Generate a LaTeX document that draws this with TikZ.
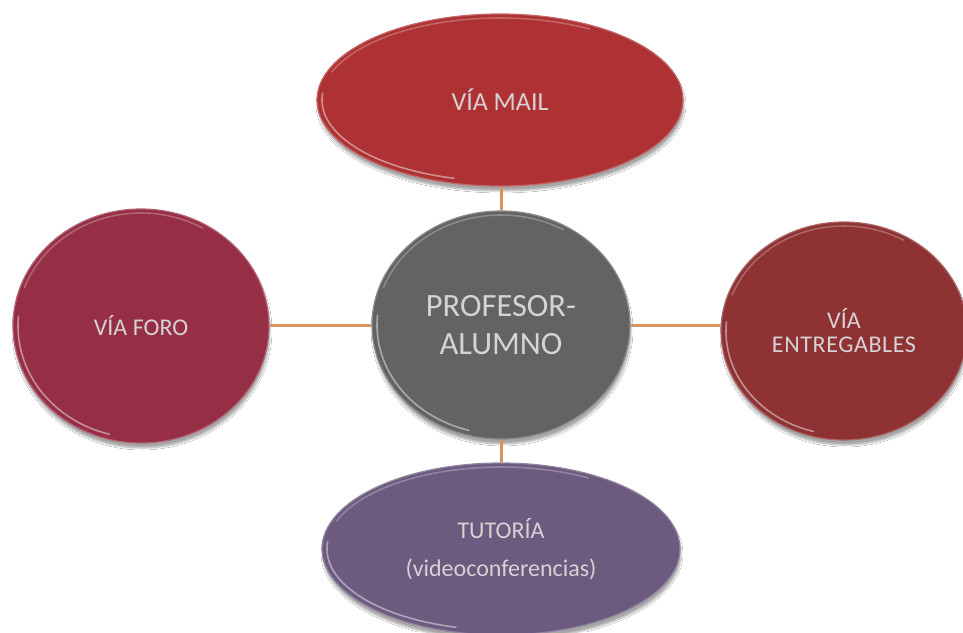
\documentclass[tikz,border=0pt]{standalone}
\usepackage{fontspec}
\setmainfont{Carlito}
\usetikzlibrary{shapes.geometric,shadows.blur}
\definecolor{mailred}{RGB}{174,50,51}
\definecolor{hubgray}{RGB}{99,99,99}
\definecolor{fororose}{RGB}{150,47,70}
\definecolor{entregred}{RGB}{142,50,51}
\definecolor{tutorpurple}{RGB}{108,91,127}
\definecolor{linktan}{RGB}{214,148,96}
\definecolor{labelgray}{RGB}{214,210,214}
\tikzset{
  bubble/.style={ellipse, inner sep=0pt, align=center, text=labelgray,
    font=\fontsize{24}{29}\selectfont,
    blur shadow={shadow xshift=1pt, shadow yshift=-5pt, shadow blur steps=6, shadow opacity=35}},
  rim/.style={draw=#1!75!white, line width=1.2pt},
  link/.style={draw=linktan, line width=3pt},
  shine/.style={draw=white, line width=1.6pt, line cap=round, opacity=0.45},
}
% soft bevel highlights inside a bubble of half-axes #2 and #3
\newcommand\bubbleshine[3]{%
  \draw[shine] ([shift={(105:{#2-5} and {#3-5})}]#1.center)
    arc[start angle=105, end angle=185, x radius=#2-5, y radius=#3-5];
  \draw[shine, opacity=0.25] ([shift={(200:{#2-4} and {#3-4})}]#1.center)
    arc[start angle=200, end angle=300, x radius=#2-4, y radius=#3-4];
}
\begin{document}
\begin{tikzpicture}[x=1pt,y=-1pt]
  \useasboundingbox (0,0) rectangle (963,632);
  \clip (0,0) rectangle (963,632);
  \fill[white] (0,0) rectangle (963,632);

  % hub and the four channels
  \node[bubble, fill=hubgray, rim=hubgray, minimum width=258pt, minimum height=228pt,
        font=\fontsize{32.5}{38}\selectfont] (hub) at (501,325) {PROFESOR-\\ALUMNO};
  \node[bubble, fill=mailred, rim=mailred, minimum width=366pt, minimum height=172pt,
        font=\fontsize{26}{30}\selectfont]
        (mail) at (500,100) {VÍA MAIL};
  \node[bubble, fill=fororose, rim=fororose, minimum width=256pt, minimum height=234pt]
        (foro) at (141,326) {VÍA FORO};
  \node[bubble, fill=entregred, rim=entregred, minimum width=246pt, minimum height=218pt,
        font=\fontsize{24}{25}\selectfont]
        (entreg) at (844,331) {VÍA\\[-1pt]\addfontfeature{LetterSpace=2.5}ENTREGABLES};
  \node[bubble, fill=tutorpurple, rim=tutorpurple, minimum width=358pt, minimum height=172pt,
        font=\fontsize{24}{38}\selectfont]
        (tutor) at (501,549) {TUTORÍA\\(videoconferencias)};

  \bubbleshine{hub}{129}{114}
  \bubbleshine{mail}{183}{86}
  \bubbleshine{foro}{128}{117}
  \bubbleshine{entreg}{123}{109}
  \bubbleshine{tutor}{179}{86}

  % connectors from the hub
  \draw[link] (hub.north) -- (hub.north |- mail.south);
  \draw[link] (hub.west) -- (hub.west -| foro.east);
  \draw[link] (hub.east) -- (hub.east -| entreg.west);
  \draw[link] (hub.south) -- (hub.south |- tutor.north);
\end{tikzpicture}
\end{document}
